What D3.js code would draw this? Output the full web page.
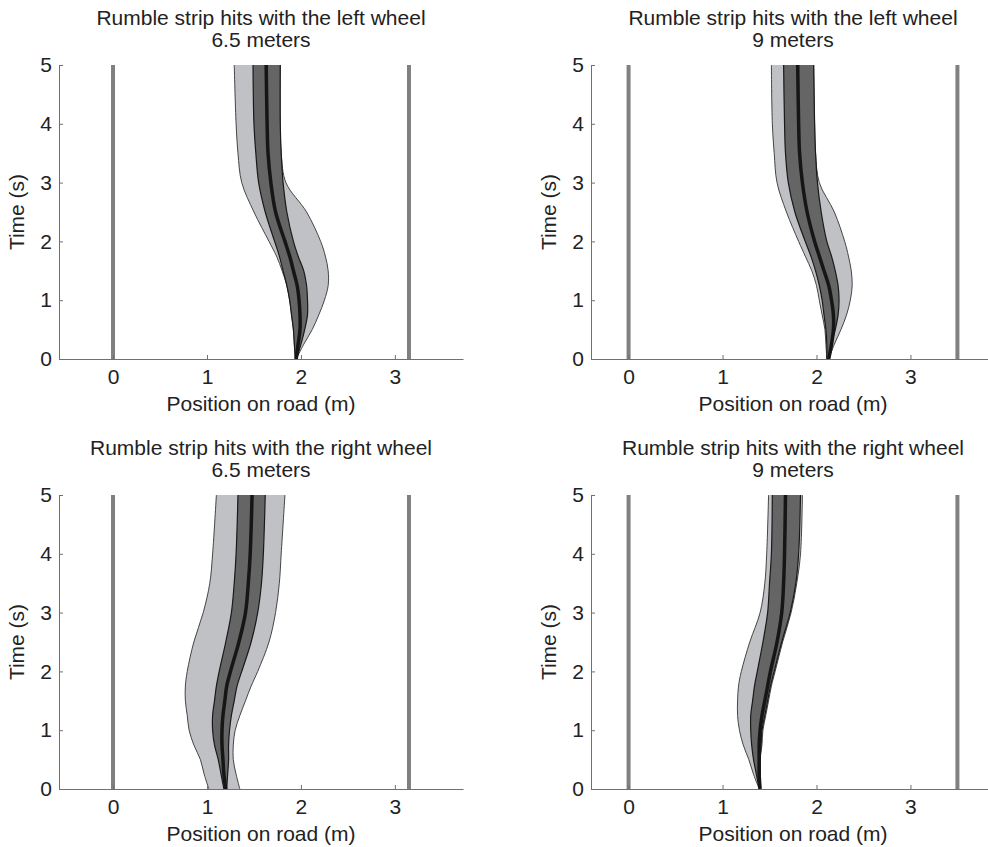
<!DOCTYPE html>
<html>
<head>
<meta charset="utf-8">
<script src="https://cdn.jsdelivr.net/npm/d3@7"></script>
<style>
  body { margin: 0; background: #fff; }
  text { font-family: "Liberation Sans", Arial, sans-serif; fill: #222; }
</style>
</head>
<body>
<div id="chart"></div>
<script>
// time samples (s), shared by all panels
var times = [0, 0.25, 0.5, 0.75, 1, 1.25, 1.5, 1.75, 2, 2.5, 3, 3.5, 4, 5];

// left wheel, 6.5 m
var lw65_outerLo = [1.94, 1.93, 1.92, 1.90, 1.88, 1.85, 1.80, 1.74, 1.66, 1.50, 1.37, 1.33, 1.31, 1.29];
var lw65_outerHi = [1.95, 2.03, 2.12, 2.19, 2.25, 2.29, 2.29, 2.26, 2.21, 2.06, 1.84, 1.79, 1.78, 1.78];
var lw65_innerLo = [1.94, 1.93, 1.92, 1.90, 1.88, 1.85, 1.81, 1.77, 1.72, 1.62, 1.55, 1.52, 1.50, 1.49];
var lw65_innerHi = [1.95, 2.00, 2.04, 2.07, 2.07, 2.06, 2.03, 1.97, 1.92, 1.85, 1.81, 1.79, 1.78, 1.78];
var lw65_median  = [1.95, 1.97, 1.99, 1.99, 1.98, 1.96, 1.92, 1.88, 1.83, 1.73, 1.68, 1.65, 1.64, 1.63];

// left wheel, 9 m
var lw9_outerLo = [2.11, 2.10, 2.09, 2.06, 2.03, 2.00, 1.95, 1.88, 1.81, 1.68, 1.58, 1.55, 1.53, 1.52];
var lw9_outerHi = [2.13, 2.19, 2.26, 2.32, 2.36, 2.38, 2.37, 2.34, 2.30, 2.19, 2.03, 1.99, 1.98, 1.97];
var lw9_innerLo = [2.11, 2.11, 2.10, 2.08, 2.06, 2.03, 1.99, 1.94, 1.88, 1.77, 1.70, 1.67, 1.66, 1.65];
var lw9_innerHi = [2.13, 2.16, 2.20, 2.23, 2.24, 2.23, 2.20, 2.16, 2.11, 2.05, 2.01, 1.99, 1.98, 1.97];
var lw9_median  = [2.13, 2.16, 2.18, 2.18, 2.16, 2.13, 2.08, 2.03, 1.98, 1.90, 1.85, 1.82, 1.81, 1.80];

// right wheel, 6.5 m
var rw65_outerLo = [1.02, 0.97, 0.93, 0.86, 0.81, 0.79, 0.77, 0.77, 0.79, 0.86, 0.96, 1.03, 1.06, 1.10];
var rw65_outerHi = [1.35, 1.31, 1.28, 1.28, 1.30, 1.35, 1.41, 1.47, 1.54, 1.66, 1.73, 1.77, 1.79, 1.83];
var rw65_innerLo = [1.18, 1.15, 1.12, 1.08, 1.06, 1.06, 1.08, 1.10, 1.13, 1.20, 1.26, 1.29, 1.31, 1.33];
var rw65_innerHi = [1.21, 1.22, 1.23, 1.23, 1.24, 1.26, 1.29, 1.32, 1.37, 1.47, 1.54, 1.58, 1.60, 1.62];
var rw65_median  = [1.20, 1.18, 1.17, 1.16, 1.16, 1.17, 1.19, 1.21, 1.25, 1.34, 1.41, 1.44, 1.46, 1.48];

// right wheel, 9 m
var rw9_outerLo = [1.39, 1.33, 1.28, 1.22, 1.18, 1.16, 1.16, 1.17, 1.20, 1.29, 1.40, 1.45, 1.47, 1.49];
var rw9_outerHi = [1.40, 1.40, 1.40, 1.42, 1.43, 1.46, 1.49, 1.52, 1.56, 1.64, 1.73, 1.79, 1.83, 1.85];
var rw9_innerLo = [1.39, 1.36, 1.33, 1.31, 1.30, 1.30, 1.32, 1.34, 1.37, 1.43, 1.48, 1.50, 1.52, 1.53];
var rw9_innerHi = [1.40, 1.40, 1.40, 1.41, 1.42, 1.45, 1.48, 1.51, 1.55, 1.63, 1.72, 1.78, 1.81, 1.83];
var rw9_median  = [1.40, 1.39, 1.39, 1.39, 1.40, 1.42, 1.45, 1.48, 1.51, 1.58, 1.63, 1.65, 1.66, 1.67];

var xTicks = [0, 1, 2, 3];
var yTicks = [0, 1, 2, 3, 4, 5];

var panels = [
  {title: ['Rumble strip hits with the left wheel', '6.5 meters'], road: 3.15, xlim: [-0.575, 3.725],
   outerLo: lw65_outerLo, outerHi: lw65_outerHi, innerLo: lw65_innerLo, innerHi: lw65_innerHi, median: lw65_median,
   left: 59, top: 65},
  {title: ['Rumble strip hits with the left wheel', '9 meters'], road: 3.5, xlim: [-0.4, 3.9],
   outerLo: lw9_outerLo, outerHi: lw9_outerHi, innerLo: lw9_innerLo, innerHi: lw9_innerHi, median: lw9_median,
   left: 591, top: 65},
  {title: ['Rumble strip hits with the right wheel', '6.5 meters'], road: 3.15, xlim: [-0.575, 3.725],
   outerLo: rw65_outerLo, outerHi: rw65_outerHi, innerLo: rw65_innerLo, innerHi: rw65_innerHi, median: rw65_median,
   left: 59, top: 495},
  {title: ['Rumble strip hits with the right wheel', '9 meters'], road: 3.5, xlim: [-0.4, 3.9],
   outerLo: rw9_outerLo, outerHi: rw9_outerHi, innerLo: rw9_innerLo, innerHi: rw9_innerHi, median: rw9_median,
   left: 591, top: 495}
];

var width = 404, height = 294;
var fontSize = '21px';

var svg = d3.select('#chart')
  .append('svg')
  .attr('width', 988)
  .attr('height', 847);

panels.forEach(function(p) {
  var x = d3.scaleLinear().domain(p.xlim).range([0, width]);
  var y = d3.scaleLinear().domain([0, 5]).range([height, 0]);

  var rows = times.map(function(t, i) {
    return {t: t, oLo: p.outerLo[i], oHi: p.outerHi[i], iLo: p.innerLo[i], iHi: p.innerHi[i], m: p.median[i]};
  });

  var g = svg.append('g').attr('transform', 'translate(' + p.left + ',' + p.top + ')');

  var curve = d3.curveCatmullRom;

  var area = function(lo, hi) {
    return d3.area().curve(curve)
      .y(d => y(d.t))
      .x0(d => x(d[lo]))
      .x1(d => x(d[hi]));
  };
  var line = function(key) {
    return d3.line().curve(curve)
      .x(d => x(d[key]))
      .y(d => y(d.t));
  };

  // road edges
  g.selectAll('.road')
    .data([0, p.road])
    .enter().append('line')
    .attr('x1', d => x(d)).attr('x2', d => x(d))
    .attr('y1', y(0)).attr('y2', y(5))
    .attr('stroke', '#808080')
    .attr('stroke-width', 4);

  // outer band
  g.append('path').datum(rows)
    .attr('d', area('oLo', 'oHi'))
    .attr('fill', '#c0c1c5');
  ['oLo', 'oHi'].forEach(function(k) {
    g.append('path').datum(rows)
      .attr('d', line(k))
      .attr('fill', 'none').attr('stroke', '#333').attr('stroke-width', 0.9);
  });

  // inner band
  g.append('path').datum(rows)
    .attr('d', area('iLo', 'iHi'))
    .attr('fill', '#656565');
  ['iLo', 'iHi'].forEach(function(k) {
    g.append('path').datum(rows)
      .attr('d', line(k))
      .attr('fill', 'none').attr('stroke', '#1a1a1a').attr('stroke-width', 1.2);
  });

  // median
  g.append('path').datum(rows)
    .attr('d', line('m'))
    .attr('fill', 'none').attr('stroke', '#161616').attr('stroke-width', 3.5);

  // axes
  var xAxis = g.append('g')
    .attr('transform', 'translate(0,' + height + ')')
    .call(d3.axisBottom(x).tickValues(xTicks).tickFormat(d3.format('d'))
      .tickSize(-4).tickSizeOuter(0).tickPadding(10));
  var yAxis = g.append('g')
    .call(d3.axisLeft(y).tickValues(yTicks).tickFormat(d3.format('d'))
      .tickSize(-4).tickSizeOuter(0).tickPadding(7));

  [xAxis, yAxis].forEach(function(a) {
    a.attr('font-size', null).attr('font-family', null);
    a.select('.domain').attr('stroke', '#707070');
    a.selectAll('.tick line').attr('stroke', '#707070');
    a.selectAll('.tick text').style('font-size', fontSize).attr('fill', '#222');
  });

  // labels
  g.append('text')
    .attr('x', width / 2).attr('y', height + 52)
    .attr('text-anchor', 'middle')
    .style('font-size', fontSize)
    .text('Position on road (m)');

  g.append('text')
    .attr('transform', 'translate(-35,' + (height / 2) + ') rotate(-90)')
    .attr('text-anchor', 'middle')
    .style('font-size', fontSize)
    .text('Time (s)');

  g.selectAll('.title')
    .data(p.title)
    .enter().append('text')
    .attr('x', width / 2)
    .attr('y', (d, i) => -40 + i * 22)
    .attr('text-anchor', 'middle')
    .style('font-size', fontSize)
    .text(d => d);
});
</script>
</body>
</html>
